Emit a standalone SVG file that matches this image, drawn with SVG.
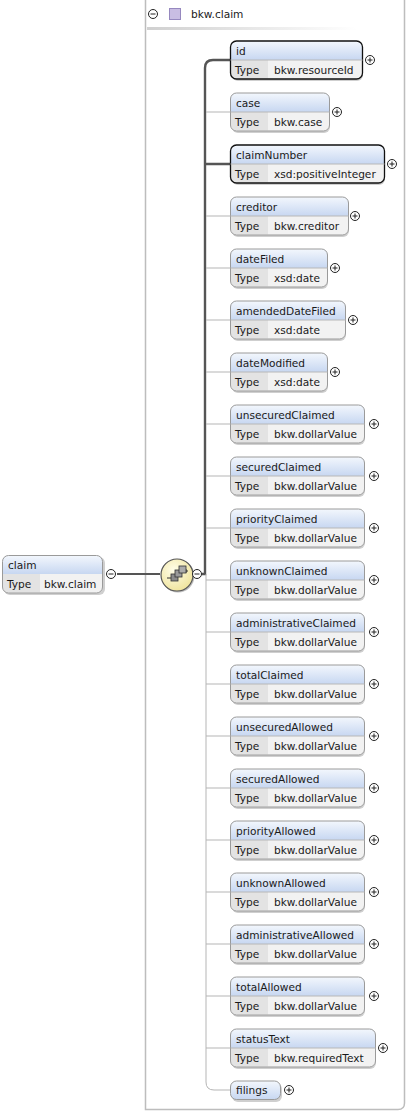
<svg xmlns="http://www.w3.org/2000/svg" width="408" height="1113" viewBox="0 0 408 1113">
<style>
text{font-family:"DejaVu Sans","Liberation Sans",sans-serif;font-size:10.6px;fill:#1a1a1a}
.hdr{fill:url(#hg)}
.row{fill:#f2f2f2}
.tcell{fill:#e3e3e3}
.shadow{fill:#cfcfcf}
.req{fill:none;stroke:#111;stroke-width:1.3}
.opt{fill:none;stroke:#9a9a9a;stroke-width:1}
.sep{stroke:#b8b8b8;stroke-width:1}
.pm{fill:#fff;stroke:#222;stroke-width:1}
.pmline{stroke:#222;stroke-width:1}
.thick{fill:none;stroke:#555;stroke-width:2.4}
.thin{fill:none;stroke:#b5b5b5;stroke-width:1}
</style>
<defs>
<linearGradient id="hg" x1="0" y1="0" x2="0" y2="1">
<stop offset="0" stop-color="#f3f7fd"/>
<stop offset="1" stop-color="#c7d7f1"/>
</linearGradient>
<linearGradient id="hl" x1="0" y1="0" x2="1" y2="0">
<stop offset="0" stop-color="#d0d0d0"/>
<stop offset="1" stop-color="#ffffff"/>
</linearGradient>
<radialGradient id="sg" cx="0.4" cy="0.35" r="0.7">
<stop offset="0" stop-color="#fffde8"/>
<stop offset="1" stop-color="#efe39a"/>
</radialGradient>
<g id="plus"><circle r="4.5" class="pm"/><path d="M-2.5 0H2.5M0 -2.5V2.5" class="pmline"/></g>
<g id="minus"><circle r="4.5" class="pm"/><path d="M-2.5 0H2.5" class="pmline"/></g>
</defs>
<rect width="408" height="1113" fill="#fff"/>

<g id="container">
<path d="M145.5 -2V1109.5H398Q404.5 1109.5 404.5 1103V-2" fill="none" stroke="#bdbdbd" stroke-width="1.5"/>
<rect x="147" y="27" width="210" height="3" fill="url(#hl)"/>
<use href="#minus" x="153" y="14"/>
<rect x="169.5" y="8.5" width="11" height="11" fill="#c9bde3" stroke="#9688bf"/>
<text x="191" y="18">bkw.claim</text>
</g>

<g id="connectors">
<path d="M117 574H160" stroke="#555" stroke-width="2" fill="none"/>
<path d="M202 574H205V68Q205 60 213 60H230M205 164H230" class="thick"/>
<path d="M206 574V1082Q206 1090 214 1090H230" class="thin"/>
<path d="M206 112H230M206 216H230M206 268H230M206 320H230M206 372H230M206 424H230M206 476H230M206 528H230M206 580H230M206 632H230M206 684H230M206 736H230M206 788H230M206 840H230M206 892H230M206 944H230M206 996H230M206 1048H230" class="thin"/>
</g>

<g id="claim">
<rect x="4" y="557" width="101" height="38" rx="6" class="shadow"/>
<path d="M2.5 574V561.5Q2.5 555.5 8.5 555.5H96.5Q102.5 555.5 102.5 561.5V574Z" class="hdr"/>
<path d="M2.5 574H102.5V587Q102.5 593 96.5 593H8.5Q2.5 593 2.5 587Z" class="row"/>
<path d="M3 574H40V592.5H8.5Q3 592.5 3 587Z" class="tcell"/>
<rect x="2.5" y="555.5" width="100" height="37.5" rx="6" class="opt"/>
<text x="8" y="569">claim</text>
<text x="7" y="588">Type</text>
<text x="44" y="588">bkw.claim</text>
<use href="#minus" x="111" y="574"/>
</g>

<g id="sequence">
<circle cx="178" cy="576" r="16.5" fill="#bbb"/>
<circle cx="177" cy="575" r="16" fill="url(#sg)" stroke="#555" stroke-width="1.2"/>
<path d="M167 578H171M183 571H188M186 569V573" stroke="#333" stroke-width="1" fill="none"/>
<rect x="171" y="574" width="7" height="7" fill="#8a8a8a" stroke="#333" stroke-width="0.8"/>
<rect x="175" y="570" width="7" height="7" fill="#9a9a9a" stroke="#333" stroke-width="0.8"/>
<rect x="179" y="566" width="7" height="7" fill="#aaa" stroke="#333" stroke-width="0.8"/>
<use href="#minus" x="197" y="574"/>
</g>

<g id="el-id">
<rect x="232" y="43" width="131" height="38" rx="6" class="shadow"/>
<path d="M230.5 60V47Q230.5 41 236.5 41H356.5Q362.5 41 362.5 47V60Z" class="hdr"/>
<path d="M230.5 60H362.5V73Q362.5 79 356.5 79H236.5Q230.5 79 230.5 73Z" class="row"/>
<path d="M231 60H268V78.5H236.5Q231 78.5 231 73Z" class="tcell"/>
<rect x="230.5" y="41" width="132" height="38" rx="6" class="req"/>
<path d="M230.5 60H362.5" class="sep"/>
<text x="236" y="55">id</text>
<text x="235" y="74">Type</text>
<text x="274" y="74">bkw.resourceId</text>
<use href="#plus" x="370" y="60"/>
</g>

<g id="el-case">
<rect x="232" y="95" width="98" height="38" rx="6" class="shadow"/>
<path d="M230.5 112V99Q230.5 93 236.5 93H323.5Q329.5 93 329.5 99V112Z" class="hdr"/>
<path d="M230.5 112H329.5V125Q329.5 131 323.5 131H236.5Q230.5 131 230.5 125Z" class="row"/>
<path d="M231 112H268V130.5H236.5Q231 130.5 231 125Z" class="tcell"/>
<rect x="230.5" y="93" width="99" height="38" rx="6" class="opt"/>
<path d="M230.5 112H329.5" class="sep"/>
<text x="236" y="107">case</text>
<text x="235" y="126">Type</text>
<text x="274" y="126">bkw.case</text>
<use href="#plus" x="337" y="112"/>
</g>

<g id="el-claimNumber">
<rect x="232" y="147" width="153" height="38" rx="6" class="shadow"/>
<path d="M230.5 164V151Q230.5 145 236.5 145H378.5Q384.5 145 384.5 151V164Z" class="hdr"/>
<path d="M230.5 164H384.5V177Q384.5 183 378.5 183H236.5Q230.5 183 230.5 177Z" class="row"/>
<path d="M231 164H268V182.5H236.5Q231 182.5 231 177Z" class="tcell"/>
<rect x="230.5" y="145" width="154" height="38" rx="6" class="req"/>
<path d="M230.5 164H384.5" class="sep"/>
<text x="236" y="159">claimNumber</text>
<text x="235" y="178">Type</text>
<text x="274" y="178">xsd:positiveInteger</text>
<use href="#plus" x="392" y="164"/>
</g>

<g id="el-creditor">
<rect x="232" y="199" width="117" height="38" rx="6" class="shadow"/>
<path d="M230.5 216V203Q230.5 197 236.5 197H342.5Q348.5 197 348.5 203V216Z" class="hdr"/>
<path d="M230.5 216H348.5V229Q348.5 235 342.5 235H236.5Q230.5 235 230.5 229Z" class="row"/>
<path d="M231 216H268V234.5H236.5Q231 234.5 231 229Z" class="tcell"/>
<rect x="230.5" y="197" width="118" height="38" rx="6" class="opt"/>
<path d="M230.5 216H348.5" class="sep"/>
<text x="236" y="211">creditor</text>
<text x="235" y="230">Type</text>
<text x="274" y="230">bkw.creditor</text>
<use href="#plus" x="355" y="216"/>
</g>

<g id="el-dateFiled">
<rect x="232" y="251" width="96" height="38" rx="6" class="shadow"/>
<path d="M230.5 268V255Q230.5 249 236.5 249H321.5Q327.5 249 327.5 255V268Z" class="hdr"/>
<path d="M230.5 268H327.5V281Q327.5 287 321.5 287H236.5Q230.5 287 230.5 281Z" class="row"/>
<path d="M231 268H268V286.5H236.5Q231 286.5 231 281Z" class="tcell"/>
<rect x="230.5" y="249" width="97" height="38" rx="6" class="opt"/>
<path d="M230.5 268H327.5" class="sep"/>
<text x="236" y="263">dateFiled</text>
<text x="235" y="282">Type</text>
<text x="274" y="282">xsd:date</text>
<use href="#plus" x="335" y="268"/>
</g>

<g id="el-amendedDateFiled">
<rect x="232" y="303" width="114" height="38" rx="6" class="shadow"/>
<path d="M230.5 320V307Q230.5 301 236.5 301H339.5Q345.5 301 345.5 307V320Z" class="hdr"/>
<path d="M230.5 320H345.5V333Q345.5 339 339.5 339H236.5Q230.5 339 230.5 333Z" class="row"/>
<path d="M231 320H268V338.5H236.5Q231 338.5 231 333Z" class="tcell"/>
<rect x="230.5" y="301" width="115" height="38" rx="6" class="opt"/>
<path d="M230.5 320H345.5" class="sep"/>
<text x="236" y="315">amendedDateFiled</text>
<text x="235" y="334">Type</text>
<text x="274" y="334">xsd:date</text>
<use href="#plus" x="353" y="320"/>
</g>

<g id="el-dateModified">
<rect x="232" y="355" width="96" height="38" rx="6" class="shadow"/>
<path d="M230.5 372V359Q230.5 353 236.5 353H321.5Q327.5 353 327.5 359V372Z" class="hdr"/>
<path d="M230.5 372H327.5V385Q327.5 391 321.5 391H236.5Q230.5 391 230.5 385Z" class="row"/>
<path d="M231 372H268V390.5H236.5Q231 390.5 231 385Z" class="tcell"/>
<rect x="230.5" y="353" width="97" height="38" rx="6" class="opt"/>
<path d="M230.5 372H327.5" class="sep"/>
<text x="236" y="367">dateModified</text>
<text x="235" y="386">Type</text>
<text x="274" y="386">xsd:date</text>
<use href="#plus" x="335" y="372"/>
</g>

<g id="el-unsecuredClaimed">
<rect x="232" y="407" width="133" height="38" rx="6" class="shadow"/>
<path d="M230.5 424V411Q230.5 405 236.5 405H358.5Q364.5 405 364.5 411V424Z" class="hdr"/>
<path d="M230.5 424H364.5V437Q364.5 443 358.5 443H236.5Q230.5 443 230.5 437Z" class="row"/>
<path d="M231 424H268V442.5H236.5Q231 442.5 231 437Z" class="tcell"/>
<rect x="230.5" y="405" width="134" height="38" rx="6" class="opt"/>
<path d="M230.5 424H364.5" class="sep"/>
<text x="236" y="419">unsecuredClaimed</text>
<text x="235" y="438">Type</text>
<text x="274" y="438">bkw.dollarValue</text>
<use href="#plus" x="374" y="424"/>
</g>

<g id="el-securedClaimed">
<rect x="232" y="459" width="133" height="38" rx="6" class="shadow"/>
<path d="M230.5 476V463Q230.5 457 236.5 457H358.5Q364.5 457 364.5 463V476Z" class="hdr"/>
<path d="M230.5 476H364.5V489Q364.5 495 358.5 495H236.5Q230.5 495 230.5 489Z" class="row"/>
<path d="M231 476H268V494.5H236.5Q231 494.5 231 489Z" class="tcell"/>
<rect x="230.5" y="457" width="134" height="38" rx="6" class="opt"/>
<path d="M230.5 476H364.5" class="sep"/>
<text x="236" y="471">securedClaimed</text>
<text x="235" y="490">Type</text>
<text x="274" y="490">bkw.dollarValue</text>
<use href="#plus" x="374" y="476"/>
</g>

<g id="el-priorityClaimed">
<rect x="232" y="511" width="133" height="38" rx="6" class="shadow"/>
<path d="M230.5 528V515Q230.5 509 236.5 509H358.5Q364.5 509 364.5 515V528Z" class="hdr"/>
<path d="M230.5 528H364.5V541Q364.5 547 358.5 547H236.5Q230.5 547 230.5 541Z" class="row"/>
<path d="M231 528H268V546.5H236.5Q231 546.5 231 541Z" class="tcell"/>
<rect x="230.5" y="509" width="134" height="38" rx="6" class="opt"/>
<path d="M230.5 528H364.5" class="sep"/>
<text x="236" y="523">priorityClaimed</text>
<text x="235" y="542">Type</text>
<text x="274" y="542">bkw.dollarValue</text>
<use href="#plus" x="374" y="528"/>
</g>

<g id="el-unknownClaimed">
<rect x="232" y="563" width="133" height="38" rx="6" class="shadow"/>
<path d="M230.5 580V567Q230.5 561 236.5 561H358.5Q364.5 561 364.5 567V580Z" class="hdr"/>
<path d="M230.5 580H364.5V593Q364.5 599 358.5 599H236.5Q230.5 599 230.5 593Z" class="row"/>
<path d="M231 580H268V598.5H236.5Q231 598.5 231 593Z" class="tcell"/>
<rect x="230.5" y="561" width="134" height="38" rx="6" class="opt"/>
<path d="M230.5 580H364.5" class="sep"/>
<text x="236" y="575">unknownClaimed</text>
<text x="235" y="594">Type</text>
<text x="274" y="594">bkw.dollarValue</text>
<use href="#plus" x="374" y="580"/>
</g>

<g id="el-administrativeClaimed">
<rect x="232" y="615" width="133" height="38" rx="6" class="shadow"/>
<path d="M230.5 632V619Q230.5 613 236.5 613H358.5Q364.5 613 364.5 619V632Z" class="hdr"/>
<path d="M230.5 632H364.5V645Q364.5 651 358.5 651H236.5Q230.5 651 230.5 645Z" class="row"/>
<path d="M231 632H268V650.5H236.5Q231 650.5 231 645Z" class="tcell"/>
<rect x="230.5" y="613" width="134" height="38" rx="6" class="opt"/>
<path d="M230.5 632H364.5" class="sep"/>
<text x="236" y="627">administrativeClaimed</text>
<text x="235" y="646">Type</text>
<text x="274" y="646">bkw.dollarValue</text>
<use href="#plus" x="374" y="632"/>
</g>

<g id="el-totalClaimed">
<rect x="232" y="667" width="133" height="38" rx="6" class="shadow"/>
<path d="M230.5 684V671Q230.5 665 236.5 665H358.5Q364.5 665 364.5 671V684Z" class="hdr"/>
<path d="M230.5 684H364.5V697Q364.5 703 358.5 703H236.5Q230.5 703 230.5 697Z" class="row"/>
<path d="M231 684H268V702.5H236.5Q231 702.5 231 697Z" class="tcell"/>
<rect x="230.5" y="665" width="134" height="38" rx="6" class="opt"/>
<path d="M230.5 684H364.5" class="sep"/>
<text x="236" y="679">totalClaimed</text>
<text x="235" y="698">Type</text>
<text x="274" y="698">bkw.dollarValue</text>
<use href="#plus" x="374" y="684"/>
</g>

<g id="el-unsecuredAllowed">
<rect x="232" y="719" width="133" height="38" rx="6" class="shadow"/>
<path d="M230.5 736V723Q230.5 717 236.5 717H358.5Q364.5 717 364.5 723V736Z" class="hdr"/>
<path d="M230.5 736H364.5V749Q364.5 755 358.5 755H236.5Q230.5 755 230.5 749Z" class="row"/>
<path d="M231 736H268V754.5H236.5Q231 754.5 231 749Z" class="tcell"/>
<rect x="230.5" y="717" width="134" height="38" rx="6" class="opt"/>
<path d="M230.5 736H364.5" class="sep"/>
<text x="236" y="731">unsecuredAllowed</text>
<text x="235" y="750">Type</text>
<text x="274" y="750">bkw.dollarValue</text>
<use href="#plus" x="374" y="736"/>
</g>

<g id="el-securedAllowed">
<rect x="232" y="771" width="133" height="38" rx="6" class="shadow"/>
<path d="M230.5 788V775Q230.5 769 236.5 769H358.5Q364.5 769 364.5 775V788Z" class="hdr"/>
<path d="M230.5 788H364.5V801Q364.5 807 358.5 807H236.5Q230.5 807 230.5 801Z" class="row"/>
<path d="M231 788H268V806.5H236.5Q231 806.5 231 801Z" class="tcell"/>
<rect x="230.5" y="769" width="134" height="38" rx="6" class="opt"/>
<path d="M230.5 788H364.5" class="sep"/>
<text x="236" y="783">securedAllowed</text>
<text x="235" y="802">Type</text>
<text x="274" y="802">bkw.dollarValue</text>
<use href="#plus" x="374" y="788"/>
</g>

<g id="el-priorityAllowed">
<rect x="232" y="823" width="133" height="38" rx="6" class="shadow"/>
<path d="M230.5 840V827Q230.5 821 236.5 821H358.5Q364.5 821 364.5 827V840Z" class="hdr"/>
<path d="M230.5 840H364.5V853Q364.5 859 358.5 859H236.5Q230.5 859 230.5 853Z" class="row"/>
<path d="M231 840H268V858.5H236.5Q231 858.5 231 853Z" class="tcell"/>
<rect x="230.5" y="821" width="134" height="38" rx="6" class="opt"/>
<path d="M230.5 840H364.5" class="sep"/>
<text x="236" y="835">priorityAllowed</text>
<text x="235" y="854">Type</text>
<text x="274" y="854">bkw.dollarValue</text>
<use href="#plus" x="374" y="840"/>
</g>

<g id="el-unknownAllowed">
<rect x="232" y="875" width="133" height="38" rx="6" class="shadow"/>
<path d="M230.5 892V879Q230.5 873 236.5 873H358.5Q364.5 873 364.5 879V892Z" class="hdr"/>
<path d="M230.5 892H364.5V905Q364.5 911 358.5 911H236.5Q230.5 911 230.5 905Z" class="row"/>
<path d="M231 892H268V910.5H236.5Q231 910.5 231 905Z" class="tcell"/>
<rect x="230.5" y="873" width="134" height="38" rx="6" class="opt"/>
<path d="M230.5 892H364.5" class="sep"/>
<text x="236" y="887">unknownAllowed</text>
<text x="235" y="906">Type</text>
<text x="274" y="906">bkw.dollarValue</text>
<use href="#plus" x="374" y="892"/>
</g>

<g id="el-administrativeAllowed">
<rect x="232" y="927" width="133" height="38" rx="6" class="shadow"/>
<path d="M230.5 944V931Q230.5 925 236.5 925H358.5Q364.5 925 364.5 931V944Z" class="hdr"/>
<path d="M230.5 944H364.5V957Q364.5 963 358.5 963H236.5Q230.5 963 230.5 957Z" class="row"/>
<path d="M231 944H268V962.5H236.5Q231 962.5 231 957Z" class="tcell"/>
<rect x="230.5" y="925" width="134" height="38" rx="6" class="opt"/>
<path d="M230.5 944H364.5" class="sep"/>
<text x="236" y="939">administrativeAllowed</text>
<text x="235" y="958">Type</text>
<text x="274" y="958">bkw.dollarValue</text>
<use href="#plus" x="374" y="944"/>
</g>

<g id="el-totalAllowed">
<rect x="232" y="979" width="133" height="38" rx="6" class="shadow"/>
<path d="M230.5 996V983Q230.5 977 236.5 977H358.5Q364.5 977 364.5 983V996Z" class="hdr"/>
<path d="M230.5 996H364.5V1009Q364.5 1015 358.5 1015H236.5Q230.5 1015 230.5 1009Z" class="row"/>
<path d="M231 996H268V1014.5H236.5Q231 1014.5 231 1009Z" class="tcell"/>
<rect x="230.5" y="977" width="134" height="38" rx="6" class="opt"/>
<path d="M230.5 996H364.5" class="sep"/>
<text x="236" y="991">totalAllowed</text>
<text x="235" y="1010">Type</text>
<text x="274" y="1010">bkw.dollarValue</text>
<use href="#plus" x="374" y="996"/>
</g>

<g id="el-statusText">
<rect x="232" y="1031" width="144" height="38" rx="6" class="shadow"/>
<path d="M230.5 1048V1035Q230.5 1029 236.5 1029H369.5Q375.5 1029 375.5 1035V1048Z" class="hdr"/>
<path d="M230.5 1048H375.5V1061Q375.5 1067 369.5 1067H236.5Q230.5 1067 230.5 1061Z" class="row"/>
<path d="M231 1048H268V1066.5H236.5Q231 1066.5 231 1061Z" class="tcell"/>
<rect x="230.5" y="1029" width="145" height="38" rx="6" class="opt"/>
<path d="M230.5 1048H375.5" class="sep"/>
<text x="236" y="1043">statusText</text>
<text x="235" y="1062">Type</text>
<text x="274" y="1062">bkw.requiredText</text>
<use href="#plus" x="383" y="1048"/>
</g>

<g id="el-filings">
<rect x="232" y="1083" width="50" height="19" rx="6" class="shadow"/>
<rect x="230.5" y="1081" width="50" height="18.5" rx="6" class="hdr"/>
<rect x="230.5" y="1081" width="50" height="18.5" rx="6" class="opt"/>
<text x="236" y="1094">filings</text>
<use href="#plus" x="289" y="1090"/>
</g>
</svg>
